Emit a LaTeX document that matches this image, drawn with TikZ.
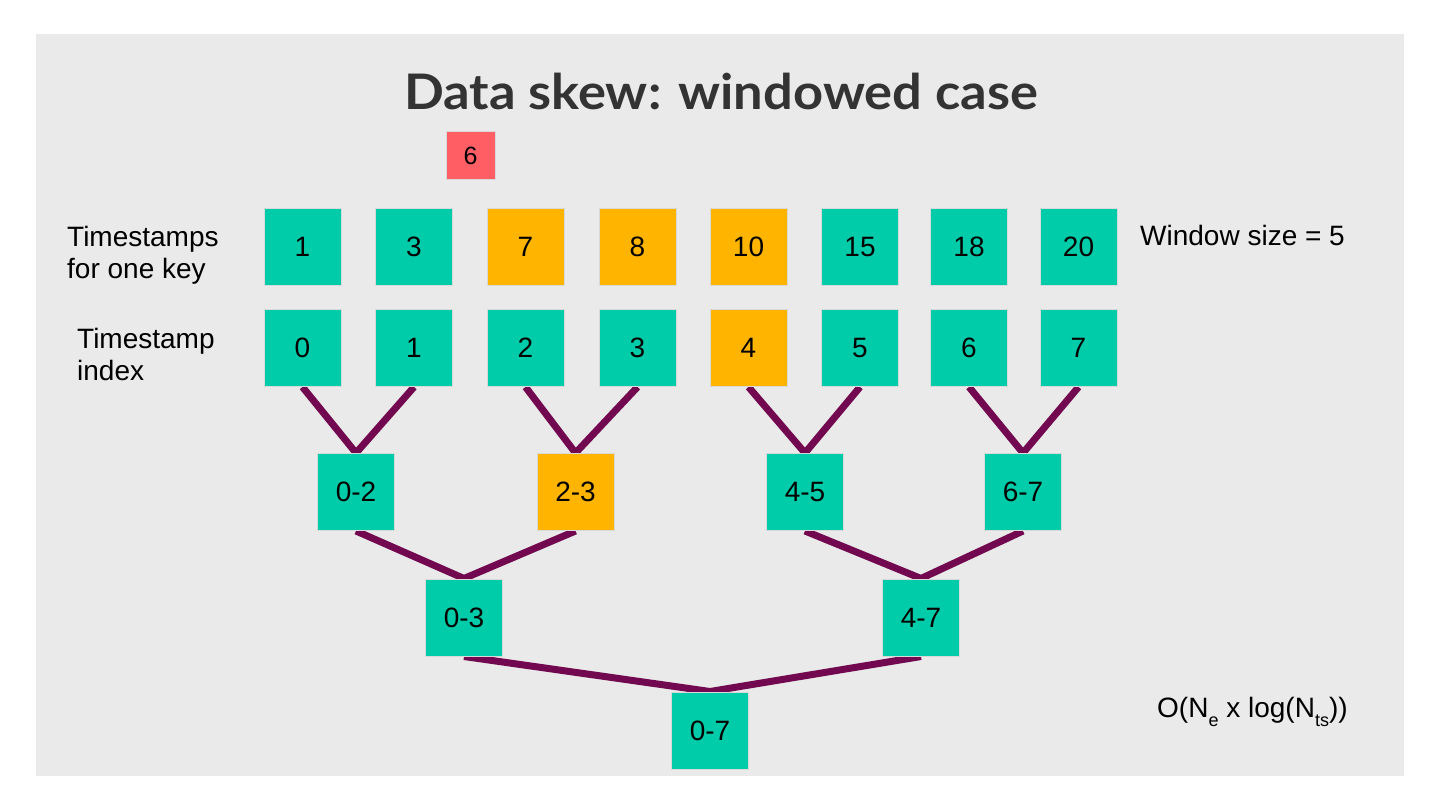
\documentclass[tikz,border=0pt]{standalone}
\usepackage{fontspec}
\setmainfont{Liberation Sans}
\newfontfamily\titlefont{Lato}
\usetikzlibrary{backgrounds}
\definecolor{panel}{RGB}{234,234,234}
\definecolor{teal}{RGB}{0,204,170}
\definecolor{amber}{RGB}{255,180,0}
\definecolor{coral}{RGB}{255,95,100}
\definecolor{plum}{RGB}{114,8,80}
\definecolor{titlegray}{RGB}{51,51,51}
\tikzset{
  box/.style={draw=black!15, line width=1pt, minimum width=77pt, minimum height=77pt,
    inner sep=0pt, font=\fontsize{28}{33}\selectfont, text=black},
  tbox/.style={box, fill=teal},
  obox/.style={box, fill=amber},
  rbox/.style={draw=black!15, line width=1pt, fill=coral, minimum width=49pt, minimum height=48pt,
    inner sep=0pt, font=\fontsize{25}{30}\selectfont},
  edge/.style={draw=plum, line width=7pt},
  lbl/.style={inner sep=0pt, font=\fontsize{28}{32}\selectfont, align=left, text=black},
}
\begin{document}
\begin{tikzpicture}[x=1pt, y=-1pt]
\useasboundingbox (0,0) rectangle (1440,810);
\begin{scope}[on background layer]
\fill[white] (0,0) rectangle (1440,810);
\fill[panel] (36,34) rectangle (1404,776);
\end{scope}

\node[inner sep=0pt, anchor=base, text=titlegray, font=\titlefont\bfseries\fontsize{49}{55}\selectfont] (title) at (721,110) {\scalebox{1.07}[1]{Data skew: windowed case}};

\node[rbox] (new) at (470.5,156) {6};

% row 1: timestamps
\node[tbox] (a0) at (302.5,247) {1};
\node[tbox] (a1) at (414,247) {3};
\node[obox] (a2) at (525.5,247) {7};
\node[obox] (a3) at (637.5,247) {8};
\node[obox] (a4) at (748.5,247) {10};
\node[tbox] (a5) at (860,247) {15};
\node[tbox] (a6) at (969,247) {18};
\node[tbox] (a7) at (1078.5,247) {20};

% row 2: indices
\node[tbox] (b0) at (302.5,348) {0};
\node[tbox] (b1) at (414,348) {1};
\node[tbox] (b2) at (525.5,348) {2};
\node[tbox] (b3) at (637.5,348) {3};
\node[obox] (b4) at (748.5,348) {4};
\node[tbox] (b5) at (860,348) {5};
\node[tbox] (b6) at (969,348) {6};
\node[tbox] (b7) at (1078.5,348) {7};

% row 3
\node[tbox] (c01) at (356,492) {0-2};
\node[obox] (c23) at (575.5,492) {2-3};
\node[tbox] (c45) at (805,492) {4-5};
\node[tbox] (c67) at (1023,492) {6-7};

% row 4
\node[tbox] (d03) at (464,617.5) {0-3};
\node[tbox] (d47) at (921,617.5) {4-7};

% row 5
\node[tbox] (e07) at (710,730.5) {0-7};

% labels
\node[lbl, anchor=north west] (lts) at (67,226) {Timestamps\\for one key};
\node[lbl, anchor=north west] (lidx) at (77,328) {Timestamp\\index};
\node[lbl, anchor=base west] (win) at (1140,246) {Window size = 5};
\node[lbl, anchor=base west] (cost) at (1157,717) {O(N\raisebox{-9pt}{\fontsize{18}{18}\selectfont e} x log(N\raisebox{-9pt}{\fontsize{18}{18}\selectfont ts}))};

% connectors
\begin{scope}[on background layer]
\draw[edge] (b0.south) -- (c01.north);
\draw[edge] (b1.south) -- (c01.north);
\draw[edge] (b2.south) -- (c23.north);
\draw[edge] (b3.south) -- (c23.north);
\draw[edge] (b4.south) -- (c45.north);
\draw[edge] (b5.south) -- (c45.north);
\draw[edge] (b6.south) -- (c67.north);
\draw[edge] (b7.south) -- (c67.north);
\draw[edge] (c01.south) -- (d03.north);
\draw[edge] (c23.south) -- (d03.north);
\draw[edge] (c45.south) -- (d47.north);
\draw[edge] (c67.south) -- (d47.north);
\draw[edge] (d03.south) -- (e07.north);
\draw[edge] (d47.south) -- (e07.north);
\end{scope}
\end{tikzpicture}
\end{document}
